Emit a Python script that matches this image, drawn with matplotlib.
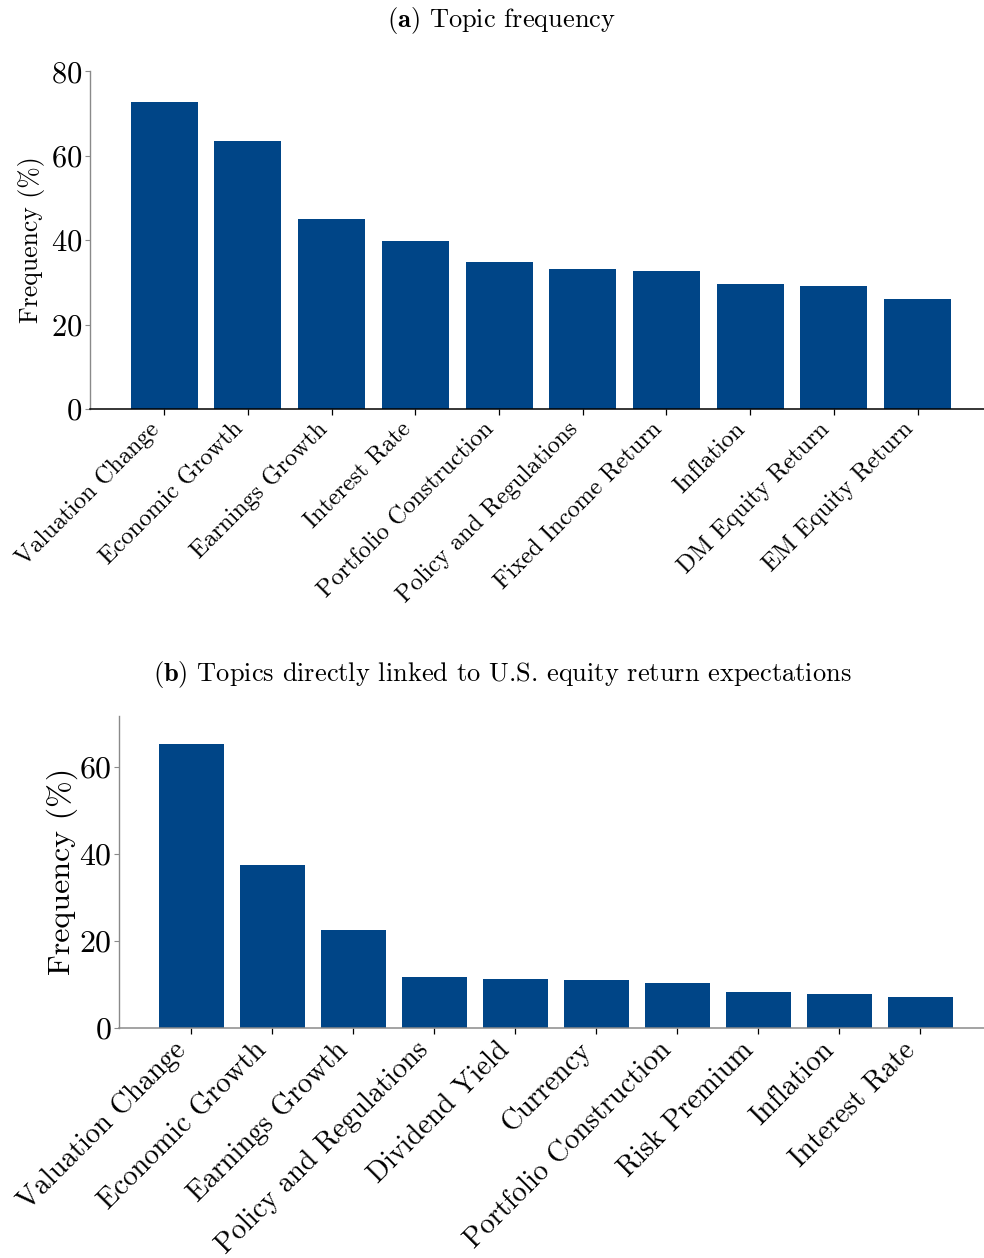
import matplotlib
matplotlib.use("Agg")
import matplotlib.pyplot as plt

BAR_COLOR = "#004587"
AXIS_GREY = "#8a8a8a"

# topic frequency, all responses
topics_all = ["Valuation Change", "Economic Growth", "Earnings Growth",
              "Interest Rate", "Portfolio Construction", "Policy and Regulations",
              "Fixed Income Return", "Inflation", "DM Equity Return",
              "EM Equity Return"]
freq_all = [72.8, 63.4, 44.9, 39.7, 34.8, 33.1, 32.6, 29.6, 29.1, 26.0]

# topics directly linked to U.S. equity return expectations
topics_us = ["Valuation Change", "Economic Growth", "Earnings Growth",
             "Policy and Regulations", "Dividend Yield", "Currency",
             "Portfolio Construction", "Risk Premium", "Inflation",
             "Interest Rate"]
freq_us = [65.1, 37.3, 22.4, 11.6, 11.2, 10.9, 10.25, 8.2, 7.7, 7.0]

plt.rcParams["font.family"] = "serif"
plt.rcParams["font.serif"] = ["cmr10"]
plt.rcParams["mathtext.fontset"] = "cm"
plt.rcParams["axes.formatter.use_mathtext"] = True
plt.rcParams["axes.unicode_minus"] = False


def draw_panel(ax, labels, values, yticks, tick_fs, xtick_fs, label_fs, label_x):
    x = range(len(values))
    ax.bar(x, values, width=0.8, color=BAR_COLOR)
    ax.set_xlim(-0.89, 9.89)
    ax.set_ylim(0, max(values) * 1.1)
    ax.set_yticks(yticks)
    ax.set_xticks(list(x))
    ax.set_xticklabels(labels, rotation=45, ha="right", fontsize=xtick_fs)
    ax.tick_params(axis="y", labelsize=tick_fs, length=3.5, width=0.8,
                   color=AXIS_GREY, pad=2)
    ax.tick_params(axis="x", length=4.5, width=0.9, color="black", pad=2)
    ax.spines["top"].set_visible(False)
    ax.spines["right"].set_visible(False)
    ax.spines["left"].set_color(AXIS_GREY)
    ax.spines["left"].set_linewidth(1.0)
    ax.spines["bottom"].set_color("black")
    ax.spines["bottom"].set_linewidth(1.1)
    ax.set_ylabel("Frequency (%)", fontsize=label_fs)
    ax.yaxis.set_label_coords(label_x, 0.5)


fig = plt.figure(figsize=(9.84, 12.58), dpi=100)

ax_a = fig.add_axes([0.0912, 0.6749, 0.917, 0.2687])
draw_panel(ax_a, topics_all, freq_all, [0, 20, 40, 60, 80],
           tick_fs=22, xtick_fs=17.5, label_fs=18.5, label_x=-0.05)

ax_b = fig.add_axes([0.1211, 0.1831, 0.8875, 0.2477])
draw_panel(ax_b, topics_us, freq_us, [0, 20, 40, 60],
           tick_fs=23, xtick_fs=20.5, label_fs=23, label_x=-0.047)
ax_b.spines["bottom"].set_color(AXIS_GREY)

fig.text(0.510, 1 - 20 / 1258, r"$\mathbf{(a)}$ Topic frequency",
         ha="center", va="center", fontsize=19)
fig.text(0.510, 1 - 674 / 1258,
         r"$\mathbf{(b)}$ Topics directly linked to U.S. equity return expectations",
         ha="center", va="center", fontsize=19)

fig.savefig("out.png", dpi=100)
